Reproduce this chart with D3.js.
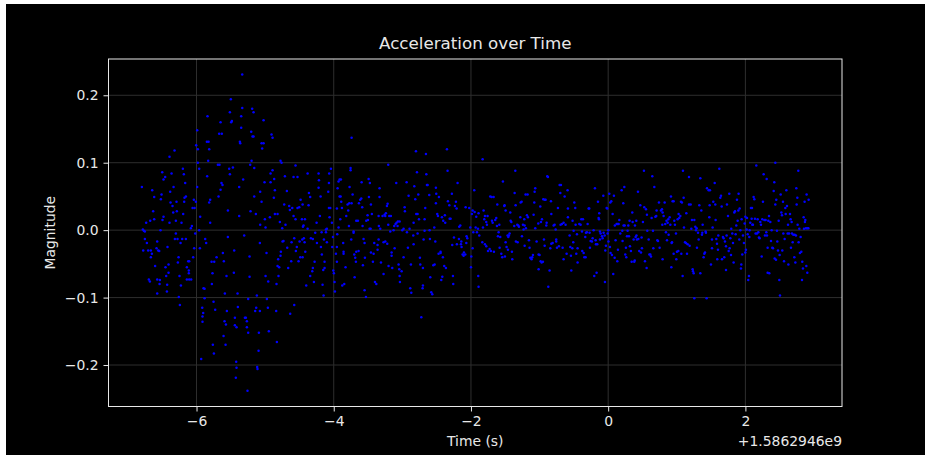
<!DOCTYPE html>
<html>
<head>
<meta charset="utf-8">
<script src="https://cdn.jsdelivr.net/npm/d3@7"></script>
<style>
  html, body { margin: 0; padding: 0; background: #fff; }
  svg { display: block; }
  text { font-family: "DejaVu Sans", sans-serif; }
</style>
</head>
<body>
<div id="chart"></div>
<script>
// time is in seconds relative to the offset shown at the bottom right
const timeOffsetLabel = '+1.5862946e9'
const xTicks = [-6, -4, -2, 0, 2]
const yTicks = [-0.2, -0.1, 0.0, 0.1, 0.2]

// [time, magnitude], split into chunks of time
const burstPoints = [
  [-6.797,.064],[-6.782,.001],[-6.768,-.001],[-6.753,-.002],[-6.777,-.030],[-6.753,-.013],[-6.724,-.019],[-6.734,.011],
  [-6.675,.014],[-6.705,-.030],[-6.666,-.030],[-6.651,-.035],[-6.666,-.040],[-6.695,-.073],[-6.680,-.076],[-6.646,.059],
  [-6.632,.028],[-6.617,.016],[-6.617,.049],[-6.603,-.053],[-6.573,-.017],[-6.583,-.027],[-6.573,-.094],[-6.573,-.073],
  [-6.544,-.031],[-6.559,-.030],[-6.534,-.074],[-6.539,-.080],[-6.525,.000],[-6.520,.046],[-6.510,.053],[-6.500,.086],
  [-6.496,.015],[-6.481,.020],[-6.481,.075],[-6.457,.079],[-6.452,-.055],[-6.442,-.068],[-6.423,-.025],[-6.428,-.081],
  [-6.432,-.091],[-6.408,-.063],[-6.408,-.051],[-6.394,.109],[-6.384,.057],[-6.379,.041],[-6.394,.011],[-6.364,.084],
  [-6.350,.036],[-6.340,.026],[-6.335,.064],[-6.321,.118],[-6.316,-.013],[-6.301,.014],[-6.301,-.005],
  [-6.287,.028],[-6.292,.042],[-6.277,-.013],[-6.272,-.048],[-6.262,-.040],[-6.258,-.099],[-6.243,-.111],[-6.233,-.019],
  [-6.228,-.082],[-6.248,-.068],[-6.219,.011],[-6.209,-.013],[-6.199,.091],[-6.194,.024],[-6.185,.083],[-6.180,.042],
  [-6.175,.048],[-6.165,.070],[-6.155,-.013],[-6.155,.050],[-6.141,-.055],[-6.121,-.046],[-6.107,-.046],[-6.112,-.060],
  [-6.112,-.064],[-6.141,-.073],[-6.107,-.073],[-6.078,-.073],[-6.068,.006],[-6.058,.033],[-6.049,-.040],[-6.083,.003],
  [-6.039,.045],[-6.029,.033],[-6.034,-.027],[-6.019,-.005],[-6.010,.042],[-6.005,.126],[-5.990,.148],[-5.990,.064],
  [-5.981,.120],[-5.981,.100],[-5.961,.091],[-5.961,.000],[-5.951,-.027],[-5.947,.020],
  [-5.917,-.115],[-5.913,-.128],[-5.903,-.123],[-5.913,-.136],[-5.898,-.086],[-5.883,-.087],[-5.883,-.101],[-5.932,-.191],
  [-5.874,-.013],[-5.859,-.019],[-5.849,.131],[-5.825,.131],[-5.840,.169],[-5.815,.120],[-5.830,.103],[-5.845,.080],
  [-5.801,.045],[-5.815,.041],[-5.801,.011],[-5.781,-.047],[-5.742,-.047],[-5.767,-.064],[-5.776,-.080],[-5.762,-.170],
  [-5.747,-.183],[-5.752,-.106],[-5.728,-.118],[-5.708,-.040],[-5.689,.097],[-5.665,.097],[-5.679,.050],[-5.670,.143],
  [-5.631,.143],[-5.650,.160],[-5.650,.060],
  [-5.636,.070],[-5.621,.067],[-5.616,-.034],[-5.602,-.046],[-5.587,-.094],[-5.592,-.135],[-5.572,-.140],[-5.606,-.157],
  [-5.577,-.170],[-5.558,-.120],[-5.563,-.068],[-5.543,.029],[-5.543,-.010],[-5.524,.091],[-5.514,.083],[-5.514,.175],
  [-5.500,.194],[-5.495,.160],[-5.485,.162],[-5.470,.093],[-5.451,-.030],[-5.456,-.063],[-5.441,-.130],[-5.441,-.141],
  [-5.417,-.144],[-5.422,-.195],[-5.417,-.204],[-5.427,-.219],[-5.402,-.094],[-5.397,-.114],[-5.378,.064],[-5.378,.021],
  [-5.368,.131],[-5.363,.129],[-5.349,.152],[-5.349,.169],[-5.334,.181],[-5.334,.231],
  [-5.320,.075],[-5.305,-.008],[-5.295,-.130],[-5.281,-.130],[-5.266,-.135],[-5.266,-.144],[-5.247,-.152],[-5.257,-.238],
  [-5.247,-.102],[-5.227,-.039],[-5.227,-.069],[-5.213,.028],[-5.218,.097],[-5.203,.146],[-5.198,.103],[-5.184,.139],
  [-5.169,.139],[-5.189,.180],[-5.169,.175],[-5.159,.092],[-5.159,.050],[-5.135,.024],[-5.145,-.120],[-5.130,-.115],
  [-5.121,-.097],[-5.096,-.179],[-5.116,-.203],[-5.111,-.206],[-5.091,-.152],[-5.077,-.019],[-5.072,.057],[-5.077,-.120],
  [-5.072,.008],[-5.052,.129],[-5.023,.129],[-5.043,.121],[-5.052,.042],[-5.023,.163],[-5.009,.071],
  [-5.004,.016],[-4.994,.004],[-4.994,-.068],[-4.980,-.034],[-4.975,-.102],[-4.960,-.115],[-4.955,-.076],[-4.946,-.150],
  [-4.931,.019],[-4.921,.071],[-4.921,.084],[-4.907,.142],[-4.892,.137],[-4.892,.089],[-4.873,.048],[-4.868,.076],
  [-4.858,.059],[-4.858,.024],[-4.839,-.120],[-4.829,-.166],[-4.834,-.080],[-4.819,-.053],[-4.819,.024],[-4.805,-.068],
  [-4.785,.012],[-4.810,-.043],[-4.795,-.055],[-4.776,-.038],[-4.771,-.032],[-4.761,.100],[-4.776,.103],[-4.751,.003],
  [-4.746,-.017],[-4.722,.038],[-4.732,-.016],[-4.712,.080],[-4.703,.008],[-4.683,.058],[-4.678,-.026],[-4.664,-.056],
  [-4.649,.036],[-4.639,.030],[-4.635,-.124],[-4.620,-.046],[-4.615,-.018],[-4.605,.033],[-4.586,.079],[-4.586,.021],
  [-4.576,-.111],[-4.576,-.012],[-4.557,.096],[-4.557,.016],[-4.552,-.031],[-4.528,.079],[-4.528,.033],[-4.538,-.025]
]

const earlyPoints = [
  [-4.483,.045],[-4.454,.038],[-4.503,.034],[-4.464,.016],[-4.420,.016],[-4.381,.084],[-4.362,.055],[-4.343,.049],
  [-4.367,.037],[-4.440,.007],[-4.381,.002],[-4.449,.005],[-4.435,-.012],[-4.459,-.014],[-4.425,-.018],[-4.498,-.017],
  [-4.488,-.040],[-4.454,-.040],[-4.513,-.046],[-4.415,-.032],[-4.401,-.082],[-4.343,-.068],[-4.304,-.056],[-4.289,-.077],
  [-4.279,-.047],[-4.313,-.061],[-4.250,.011],[-4.245,-.019],[-4.333,-.012],[-4.304,-.013],[-4.270,-.004],[-4.221,.084],
  [-4.216,.074],[-4.221,.063],[-4.192,.050],[-4.202,.021],[-4.177,-.003],[-4.173,-.036],[-4.187,-.025],[-4.163,-.081],
  [-4.148,-.097],[-4.143,-.014],[-4.134,-.047],[-4.134,-.056],[-4.153,-.059],[-4.114,.001],[-4.114,-.003],[-4.100,.002],
  [-4.080,.057],[-4.070,.070],[-4.066,.084],[-4.041,.091],[-4.070,.033],[-4.051,.033],[-4.061,.019],[-4.027,.011],
  [-4.012,-.010],[-4.022,-.025],[-4.007,-.060],[-3.998,-.064],[-3.988,-.077],[-3.983,-.091],[-4.100,-.018],
  [-3.968,-.035],[-3.954,.032],[-3.944,.062],[-3.930,.072],[-3.915,.075],[-3.896,.075],[-3.915,.050],[-3.900,.050],
  [-3.891,.042],[-3.881,.033],[-3.954,-.025],[-3.954,-.047],[-3.949,-.006],[-3.930,.004],[-3.905,.016],[-3.862,-.019],
  [-3.857,-.032],[-3.857,-.035],[-3.876,-.082],[-3.847,-.080],[-3.828,-.055],[-3.818,.021],[-3.798,.038],[-3.774,.040],
  [-3.789,.029],[-3.779,.006],[-3.769,.064],[-3.755,.092],[-3.755,.089],[-3.740,.137],[-3.725,.053],[-3.711,-.002],
  [-3.711,-.004],[-3.745,-.014],[-3.740,.040],[-3.701,-.036],[-3.687,-.041],[-3.696,-.070],[-3.677,-.047],[-3.672,.014],
  [-3.648,.014],[-3.672,-.032],[-3.638,-.031],[-3.633,.040],[-3.614,.045],[-3.599,.047],[-3.594,.071],[-3.585,.034],
  [-3.580,.006],[-3.575,-.052],[-3.565,-.013],[-3.551,-.019],[-3.551,-.089],[-3.546,-.041],[-3.531,-.099],[-3.526,.014],
  [-3.507,.022],[-3.502,.015],[-3.492,.076],[-3.473,.070],[-3.487,.049],[-3.478,.002],
  [-3.458,.038],[-3.444,.024],[-3.463,.002],[-3.458,-.033],[-3.429,-.047],[-3.419,-.035],[-3.410,-.019],[-3.400,-.077],
  [-3.380,-.080],[-3.361,-.029],[-3.361,-.022],[-3.346,-.014],[-3.332,.062],[-3.332,.049],[-3.346,.021],[-3.342,.006],
  [-3.322,.002],[-3.312,-.048],[-3.288,.021],[-3.274,-.065],[-3.259,.023],[-3.249,.021],[-3.240,.025],[-3.225,.036],
  [-3.215,.039],[-3.206,.008],[-3.274,-.018],[-3.249,-.017],[-3.220,-.020],[-3.201,-.053],[-3.206,.097],[-3.191,.021],
  [-3.176,-.002],[-3.167,.021],[-3.157,-.033],[-3.157,-.038],[-3.147,-.056],[-3.128,.000],[-3.118,.006],[-3.113,-.027],
  [-3.099,.009],[-3.089,.070],[-3.084,.011],[-3.070,.006],[-3.065,.013],[-3.040,.013],[-3.055,-.051],[-3.045,-.058],
  [-3.035,-.077],[-3.011,-.061],[-3.040,-.068],[-2.982,-.040],[-3.001,.000],[-2.982,.002],[-2.967,.034],[-2.963,.028],
  [-2.938,.071],[-2.933,-.003],[-2.909,.051],[-2.919,-.026],
  [-2.895,.002],[-2.885,-.086],[-2.870,-.093],[-2.875,-.051],[-2.841,-.008],[-2.836,-.021],[-2.836,.011],[-2.826,.065],
  [-2.812,.046],[-2.802,.117],[-2.787,.086],[-2.797,.024],[-2.778,.024],[-2.768,.053],[-2.778,-.005],[-2.758,.016],
  [-2.744,-.041],[-2.739,-.051],[-2.724,-.129],[-2.705,-.086],[-2.700,-.082],[-2.700,-.056],[-2.690,-.014],[-2.676,.016],
  [-2.676,-.001],[-2.666,.033],[-2.656,.113],[-2.651,.083],[-2.642,.067],[-2.632,.067],[-2.603,.000],[-2.608,.052],
  [-2.598,-.013],[-2.593,-.070],[-2.579,-.092],[-2.564,-.095],[-2.549,-.052],[-2.530,-.051],[-2.535,.004],[-2.520,-.017],
  [-2.511,.063],[-2.506,.054],[-2.511,.040],[-2.491,.024],[-2.481,.021],[-2.472,-.035],[-2.467,.049],[-2.443,-.032],
  [-2.443,-.034],[-2.433,-.074],[-2.418,-.069],[-2.409,-.040],[-2.404,.014],[-2.423,.019],
  [-2.389,-.053],[-2.365,-.056],[-2.380,.022],[-2.375,.011],[-2.350,.120],[-2.341,.088],[-2.336,.043],[-2.316,.037],
  [-2.311,.017],[-2.297,.017],[-2.278,.054],[-2.263,-.068],[-2.258,-.080],[-2.273,-.022],[-2.248,-.011],[-2.234,.036],
  [-2.219,.042],[-2.209,.032],[-2.205,-.021],[-2.195,.070],[-2.175,-.013],[-2.171,.005],[-2.156,.007],[-2.146,-.021],
  [-2.141,-.017],[-2.137,-.025],[-2.122,-.036],[-2.107,-.038],[-2.102,-.033],[-2.083,-.036],[-2.078,.034],[-2.068,-.019],
  [-2.064,-.009],[-2.054,-.012],[-2.025,.033],[-2.010,.004],[-2.000,-.055],[-1.995,-.039],[-1.986,.024],[-1.976,.029],
  [-1.976,-.027],[-1.966,-.003],[-1.952,.059],[-1.947,.027],[-1.932,.004],[-1.923,.020],[-1.913,-.003],[-1.898,.002],
  [-1.889,.025],[-1.894,-.068],[-1.889,-.084],[-1.879,-.008]
]

const middlePoints = [
  [-1.830,.105],[-1.816,.029],[-1.796,.021],[-1.806,.016],[-1.825,.004],[-1.835,-.018],[-1.796,-.021],[-1.777,-.024],
  [-1.752,-.031],[-1.728,-.028],[-1.709,-.031],[-1.665,-.032],[-1.758,.021],[-1.777,.012],[-1.767,.008],[-1.719,.050],
  [-1.699,.049],[-1.670,.049],[-1.694,.014],[-1.684,.011],[-1.646,.015],[-1.631,.018],[-1.616,.038],[-1.621,.006],
  [-1.587,.008],[-1.597,-.003],[-1.573,-.010],[-1.607,-.009],[-1.582,-.026],[-1.558,-.035],[-1.544,-.040],[-1.505,-.039],
  [-1.534,.072],[-1.514,.036],[-1.495,.029],[-1.510,.037],[-1.495,-.018],[-1.481,-.025],[-1.466,-.008],[-1.461,-.029],
  [-1.447,-.008],[-1.456,-.010],[-1.437,-.005],[-1.427,.026],[-1.412,.012],[-1.403,-.032],[-1.422,.014],[-1.398,-.043],
  [-1.369,.006],[-1.364,.055],[-1.354,.088],[-1.349,.037],[-1.345,-.017],
  [-1.325,.008],[-1.310,.007],[-1.320,-.018],[-1.301,.005],[-1.281,.019],[-1.276,.041],[-1.262,.042],[-1.257,-.009],
  [-1.242,.008],[-1.218,.007],[-1.233,.001],[-1.223,.016],[-1.218,-.023],[-1.199,.003],[-1.204,.053],[-1.175,.053],
  [-1.184,.022],[-1.170,.019],[-1.155,-.015],[-1.146,-.026],[-1.136,-.041],[-1.117,-.043],[-1.107,-.040],[-1.097,-.037],
  [-1.087,.023],[-1.072,.057],[-1.063,.062],[-1.077,.041],[-1.063,.003],[-1.043,-.017],[-1.019,.010],[-1.014,-.036],
  [-1.000,-.037],[-0.985,-.046],[-0.970,-.048],[-0.951,-.047],[-1.014,-.058],[-0.990,.035],[-0.980,.012],[-0.965,.016],
  [-0.946,.046],[-0.926,.045],[-0.912,.045],[-0.936,-.014],[-0.926,-.023],[-0.902,.007],[-0.897,.011],[-0.888,.080],
  [-0.878,.079],[-0.873,-.084],[-0.854,-.060],[-0.844,-.027],[-0.834,.043],[-0.829,.024],[-0.829,-.020],[-0.810,-.019],
  [-0.795,.007],
  [-0.781,.008],[-0.766,.001],[-0.757,-.014],[-0.757,-.017],[-0.747,-.026],[-0.732,.033],[-0.718,-.024],[-0.708,.067],
  [-0.689,.067],[-0.698,.055],[-0.694,.008],[-0.674,.009],[-0.664,-.026],[-0.650,-.043],[-0.650,.011],[-0.635,.050],
  [-0.621,.008],[-0.606,-.035],[-0.592,.059],[-0.587,.032],[-0.587,.019],[-0.562,-.008],[-0.553,-.025],[-0.543,-.038],
  [-0.538,-.060],[-0.523,-.027],[-0.509,-.018],[-0.519,.014],[-0.504,-.001],[-0.494,.041],[-0.480,.033],[-0.475,.008],
  [-0.465,-.035],[-0.455,-.006],[-0.446,-.048],[-0.446,-.027],[-0.421,.009],[-0.402,.008],[-0.392,.016],[-0.382,-.002],
  [-0.368,.016],[-0.378,-.031],[-0.358,-.034],[-0.348,-.040],[-0.334,-.010],[-0.329,-.040],[-0.324,-.004],[-0.310,-.003],
  [-0.300,.009],[-0.285,.032],[-0.276,.032],[-0.271,-.004],[-0.266,-.026],[-0.256,-.016],
  [-0.237,-.017],[-0.227,-.012],[-0.212,.000],[-0.203,-.068],[-0.193,.062],[-0.183,-.015],[-0.178,-.021],[-0.169,-.063],
  [-0.159,-.021],[-0.149,.042],[-0.139,.018],[-0.134,.016],[-0.130,.025],[-0.120,-.002],[-0.120,-.014],[-0.110,-.005],
  [-0.091,-.009],[-0.081,-.012],[-0.071,.051],[-0.067,-.004],[-0.052,-.008],[-0.047,-.077],[-0.042,-.030],[-0.033,-.023],
  [-0.023,.033],[-0.013,.032],[-0.008,-.005],[0.001,.000],[0.004,-.017],[0.016,.054],[0.026,-.025],[0.031,.041],
  [0.035,-.034],[0.045,.043],[0.055,-.037],[0.065,.024],[0.074,-.065],[0.084,.051],[0.094,-.041],[0.097,.007],
  [0.108,-.015],[0.123,.009],[0.138,.009],[0.133,-.046],[0.142,-.029],[0.152,.009],[0.162,.015],[0.176,-.005],
  [0.196,.059],[0.206,-.001],[0.210,-.016],[0.220,.040],[0.225,.007],[0.235,.064],[0.240,.007],[0.249,-.036],
  [0.259,-.026],[0.264,-.040],
  [0.274,-.009],[0.283,-.001],[0.293,.007],[0.303,-.009],[0.312,.014],[0.317,-.024],[0.332,-.031],[0.342,-.047],
  [0.351,.026],[0.356,.012],[0.371,-.014],[0.380,-.047],[0.387,-.045],[0.390,.007],[0.400,-.010],[0.410,.014],
  [0.412,-.008],[0.419,-.014],[0.434,.057],[0.439,-.013],[0.453,-.031],[0.468,.037],[0.478,-.033],[0.487,-.011],
  [0.492,-.027],[0.507,.012],[0.521,.088],[0.526,.034],[0.536,-.046],[0.551,.031],[0.560,-.056],[0.565,.023],
  [0.570,-.001],[0.590,-.014],[0.600,-.036],[0.614,-.036],[0.624,-.039],[0.633,.018],[0.643,.080],[0.653,-.001],
  [0.658,-.027],[0.672,.064],[0.688,.020],[0.706,.029],[0.701,.021],[0.716,-.015],[0.726,-.016],[0.740,.041],
  [0.750,-.026]
]

const latePoints = [
  [0.769,.029],[0.784,.031],[0.793,.026],[0.793,-.043],[0.789,.008],[0.808,.021],[0.823,.041],[0.832,.009],
  [0.842,-.003],[0.850,.014],[0.857,-.015],[0.867,.011],[0.876,.016],[0.881,-.007],[0.896,.019],[0.906,.008],
  [0.915,.050],[0.925,-.019],[0.920,-.055],[0.930,-.018],[0.939,.043],[0.954,.043],[0.964,.014],[0.973,.008],
  [0.954,-.035],[0.988,-.005],[0.993,-.043],[1.002,-.032],[1.012,.016],[1.022,-.031],[1.027,.024],[1.036,.018],
  [1.051,.021],[1.061,.042],[1.066,-.035],[1.075,.041],[1.085,-.068],[1.090,.088],[1.100,.048],[1.105,.004],
  [1.119,-.018],[1.134,-.019],[1.139,.025],[1.149,-.035],[1.158,-.021],[1.178,.079],[1.178,.038],[1.187,-.023],
  [1.202,.038],[1.212,.002],[1.221,.015],[1.231,-.058],[1.236,-.061],[1.246,-.064],[1.255,-.101],[1.255,.015],
  [1.270,.005],[1.280,.000],[1.289,.003],[1.294,-.026],[1.309,-.004],[1.319,-.014],[1.328,.037],[1.343,.077],
  [1.343,-.064],[1.357,.029],[1.367,-.007],[1.372,-.004],[1.377,.008],[1.391,-.040],[1.401,-.035],[1.411,-.033],
  [1.420,-.002],[1.425,-.004],[1.435,-.101],[1.440,.062],[1.464,.059],[1.474,.019],[1.483,.059],[1.479,.037],
  [1.498,-.051],[1.513,-.014],[1.513,-.027],[1.522,.004],[1.532,.042],[1.552,.070],[1.561,.038],[1.566,.015],
  [1.576,-.013],[1.586,-.020],[1.590,-.043],[1.605,-.008],[1.600,-.029],[1.620,.091],[1.634,.048],[1.644,.051],
  [1.654,.035],[1.659,-.043],[1.673,-.010],[1.683,-.012],[1.692,-.040],[1.702,-.017],[1.717,-.059],[1.717,-.024],
  [1.726,-.008],[1.731,.038],[1.746,.021],[1.756,-.031],[1.765,.054],[1.770,-.027],[1.780,-.012],
  [1.790,-.037],[1.794,.002],[1.809,-.005],[1.819,-.019],[1.828,-.048],[1.838,.026],[1.848,.028],[1.858,-.006],
  [1.867,.007],[1.877,.045],[1.887,.014],[1.897,.029],[1.901,.054],[1.911,-.014],[1.916,.032],[1.926,.000],
  [1.935,-.057],[1.940,-.051],[1.945,.016],[1.955,-.036],[1.965,-.008],[1.979,-.019],[1.989,.010],[1.999,.020],
  [1.999,-.033],[2.008,-.029],[2.018,.001],[2.023,.018],[2.033,-.006],[2.042,-.074],[2.052,-.068],[2.057,-.010],
  [2.062,.000],[2.071,.011],[2.081,.033],[2.091,.017],[2.096,.033],[2.101,.008],[2.110,.008],[2.120,.049],
  [2.130,.046],[2.139,.017],[2.149,-.005],[2.159,.096],[2.169,-.005],[2.178,.016],[2.188,-.003],[2.198,-.011],
  [2.207,-.012],[2.217,.012],[2.227,.008],[2.237,-.039],[2.246,.016],[2.256,.042],[2.266,.083],[2.276,.015],
  [2.285,-.008],[2.295,.015],[2.305,-.003],[2.310,.076],
  [2.314,-.008],[2.324,-.026],[2.324,-.063],[2.334,.014],[2.344,.021],[2.348,-.064],[2.363,.012],[2.373,-.016],
  [2.382,.000],[2.392,-.026],[2.402,-.027],[2.412,.058],[2.421,.071],[2.426,-.042],[2.436,.100],[2.436,.038],
  [2.446,-.044],[2.450,.045],[2.460,-.001],[2.465,-.017],[2.475,-.030],[2.485,.014],[2.494,-.074],[2.499,-.037],
  [2.504,-.097],[2.514,.053],[2.524,.026],[2.533,.022],[2.538,-.030],[2.548,.042],[2.553,-.005],[2.563,-.046],
  [2.572,-.013],[2.582,.033],[2.587,.024],[2.597,.059],[2.606,.036],[2.616,-.005],[2.626,-.051],[2.621,.008],
  [2.636,-.005],[2.650,.024],[2.659,.016],[2.664,-.026],[2.674,.012],[2.679,-.005],[2.689,-.018],[2.698,-.007],
  [2.713,-.040],[2.718,-.007],[2.728,-.048],[2.737,-.008],[2.742,.062],[2.747,.038],[2.757,.048],[2.761,.008],
  [2.771,.088],[2.776,-.018],[2.786,.002],[2.795,-.034],[2.805,-.010],[2.815,-.032],[2.825,-.074],[2.829,-.047],
  [2.839,-.057],[2.849,.019],[2.854,.002],[2.863,.042],[2.868,.012],[2.873,.015],[2.883,.003],[2.888,-.053],
  [2.892,.053],[2.902,.003],[2.902,-.063],[2.917,.003],[2.922,.045]
]

const points = [].concat(burstPoints, earlyPoints, middlePoints, latePoints)

const W = 925, H = 455
const box = { left: 108.5, right: 842, top: 59, bottom: 406.5 }
const fg = '#e8e8e8'

const svg = d3.select('#chart').append('svg').attr('width', W).attr('height', H)
// thin white strip on the left and top, rest of the figure is black
svg.append('rect').attr('x', 0).attr('y', 0).attr('width', W).attr('height', H).attr('fill', '#fff')
svg.append('rect').attr('x', 6).attr('y', 4).attr('width', W - 6).attr('height', H - 4).attr('fill', '#000')

const x = d3.scaleLinear().domain([-7.283, 3.408]).range([box.left, box.right])
const y = d3.scaleLinear().domain([-0.2615, 0.2538]).range([box.bottom, box.top])

// grid
const grid = svg.append('g')
grid.selectAll('.gx').data(xTicks).enter().append('line')
    .attr('x1', d => x(d)).attr('x2', d => x(d)).attr('y1', box.top).attr('y2', box.bottom)
    .attr('stroke', '#2e2e2e').attr('stroke-width', 1)
grid.selectAll('.gy').data(yTicks).enter().append('line')
    .attr('x1', box.left).attr('x2', box.right).attr('y1', d => y(d)).attr('y2', d => y(d))
    .attr('stroke', '#2e2e2e').attr('stroke-width', 1)

// points
svg.append('g').selectAll('circle').data(points).enter().append('circle')
    .attr('cx', d => x(d[0])).attr('cy', d => y(d[1])).attr('r', 1.25)
    .attr('fill', '#0000ff')

// axes
const xAxis = svg.append('g').attr('transform', `translate(0,${box.bottom})`)
    .call(d3.axisBottom(x).tickValues(xTicks).tickSize(5).tickPadding(5)
        .tickFormat(d => d < 0 ? '\u2212' + Math.abs(d) : String(d)))
const yAxis = svg.append('g').attr('transform', `translate(${box.left},0)`)
    .call(d3.axisLeft(y).tickValues(yTicks).tickSize(5).tickPadding(5)
        .tickFormat(d => (d < 0 ? '\u2212' : '') + Math.abs(d).toFixed(1)))
;[xAxis, yAxis].forEach(a => {
    a.select('.domain').remove()
    a.selectAll('line').attr('stroke', fg)
    a.selectAll('text').attr('fill', fg).style('font-size', '13.9px').style('font-family', '"DejaVu Sans", sans-serif')
})

// frame
svg.append('rect').attr('x', box.left).attr('y', box.top)
    .attr('width', box.right - box.left).attr('height', box.bottom - box.top)
    .attr('fill', 'none').attr('stroke', fg).attr('stroke-width', 1)

// labels
svg.append('text').attr('x', (box.left + box.right) / 2).attr('y', 49)
    .attr('text-anchor', 'middle').attr('fill', fg).style('font-size', '16.7px')
    .text('Acceleration over Time')
svg.append('text').attr('x', (box.left + box.right) / 2).attr('y', 446)
    .attr('text-anchor', 'middle').attr('fill', fg).style('font-size', '13.9px')
    .text('Time (s)')
svg.append('text').attr('transform', `translate(55,${(box.top + box.bottom) / 2}) rotate(-90)`)
    .attr('text-anchor', 'middle').attr('fill', fg).style('font-size', '13.9px')
    .text('Magnitude')
svg.append('text').attr('x', box.right).attr('y', 446)
    .attr('text-anchor', 'end').attr('fill', fg).style('font-size', '13.9px')
    .text(timeOffsetLabel)
</script>
</body>
</html>
